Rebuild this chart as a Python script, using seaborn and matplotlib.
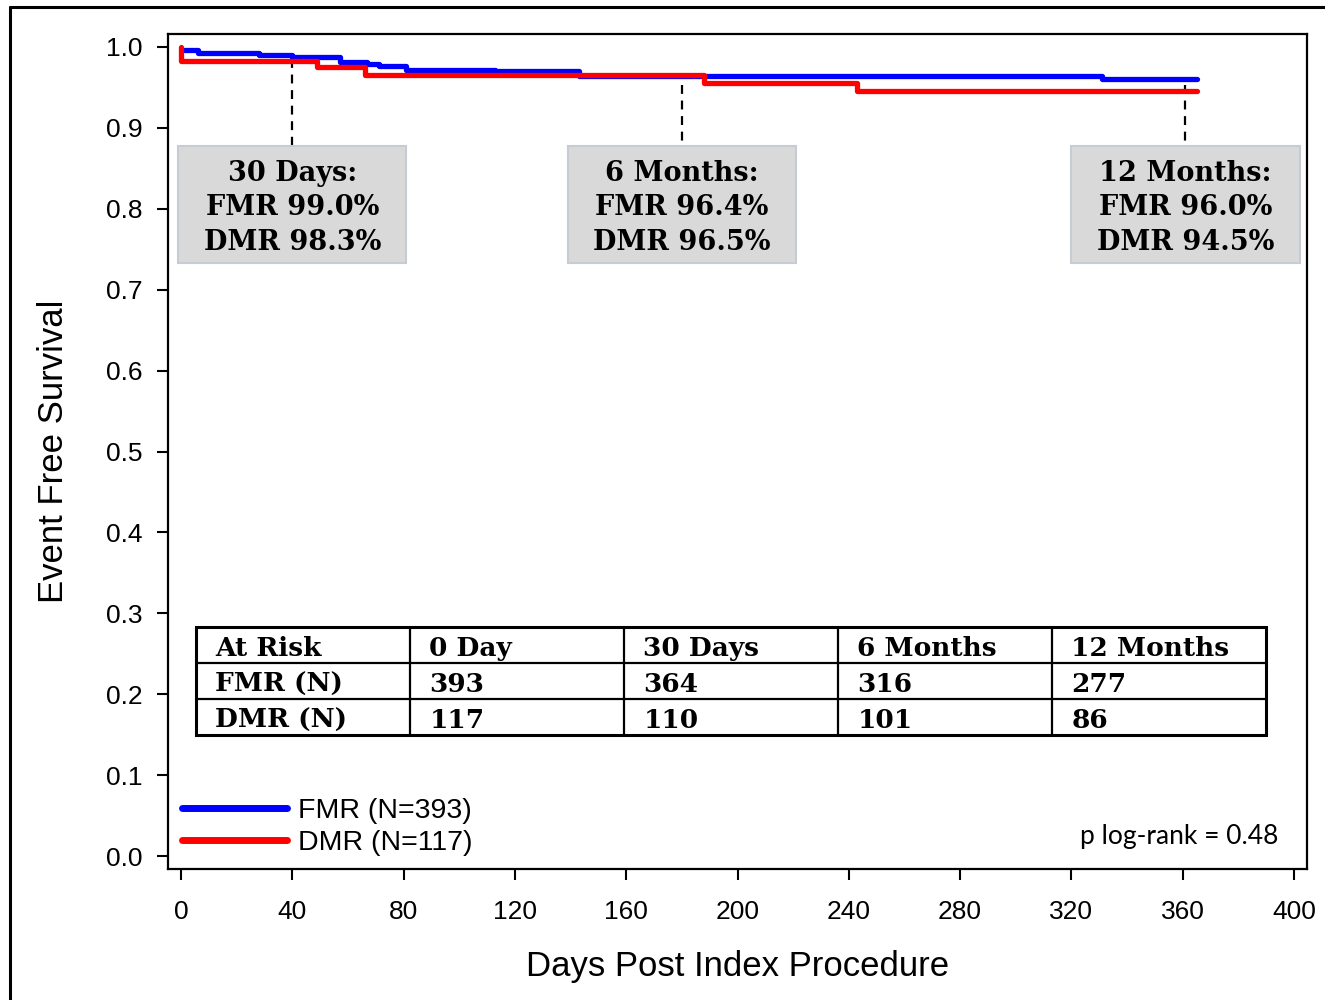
import matplotlib
matplotlib.use("Agg")
import matplotlib.pyplot as plt
from matplotlib.patches import Rectangle
from matplotlib.lines import Line2D
import seaborn as sns
import pandas as pd

# ---------------- data ----------------
fmr_days = [0, 6, 28, 40, 57, 67, 71, 81, 113, 143, 331, 365]
fmr_surv = [0.996, 0.993, 0.990, 0.988, 0.982, 0.979, 0.976, 0.972, 0.970, 0.964, 0.960, 0.960]
dmr_days = [0, 0, 49, 66, 188, 243, 365]
dmr_surv = [1.000, 0.983, 0.975, 0.965, 0.955, 0.945, 0.945]
group_labels = ["FMR (N=393)", "DMR (N=117)"]

mark_days = [40, 180, 361]
mark_titles = ["30 Days:", "6 Months:", "12 Months:"]
mark_fmr = ["FMR 99.0%", "FMR 96.4%", "FMR 96.0%"]
mark_dmr = ["DMR 98.3%", "DMR 96.5%", "DMR 94.5%"]

risk_header = ["At Risk", "0 Day", "30 Days", "6 Months", "12 Months"]
risk_fmr = ["FMR (N)", "393", "364", "316", "277"]
risk_dmr = ["DMR (N)", "117", "110", "101", "86"]

p_text = "p log-rank = 0.48"

# ---------------- style ----------------
sns.set_theme(style="ticks")
plt.rcParams["font.family"] = ["Liberation Sans", "DejaVu Sans"]
plt.rcParams["text.color"] = "black"
plt.rcParams["axes.labelcolor"] = "black"

fig = plt.figure(figsize=(13.25, 10), dpi=100)
ax = fig.add_axes([168 / 1325, 1 - 869 / 1000, (1307 - 168) / 1325, (869 - 34) / 1000])

df = pd.concat([
    pd.DataFrame({"day": fmr_days, "surv": fmr_surv, "group": group_labels[0]}),
    pd.DataFrame({"day": dmr_days, "surv": dmr_surv, "group": group_labels[1]}),
], ignore_index=True)

palette = {group_labels[0]: "#0000ff", group_labels[1]: "#ff0000"}
sns.lineplot(data=df, x="day", y="surv", hue="group", palette=palette,
             drawstyle="steps-post", estimator=None, sort=False,
             linewidth=3.8, ax=ax, zorder=3)

ax.set_xlim(-4.67, 404.67)
ax.set_ylim(-0.016, 1.016)
ax.set_xticks(range(0, 401, 40))
ax.set_yticks([i / 10 for i in range(11)])
ax.set_yticklabels([f"{i / 10:.1f}" for i in range(11)])
ax.tick_params(axis="both", direction="out", length=8, width=1.5,
               labelsize=19, color="black", labelcolor="black")
ax.tick_params(axis="x", pad=14)
ax.tick_params(axis="y", pad=10)
for s in ax.spines.values():
    s.set_visible(True)
    s.set_linewidth(1.6)
    s.set_color("black")
ax.set_xlabel("Days Post Index Procedure", fontsize=25, labelpad=19, color="black")
ax.set_ylabel("Event Free Survival", fontsize=25, labelpad=26, color="black")

# ---------------- annotation boxes ----------------
serif = ["DejaVu Serif"]
box_w = 82
box_top = 0.8776
box_bot = 0.733
dash_tops = [0.985, 0.953, 0.953]
for d, t1, t2, t3, dt in zip(mark_days, mark_titles, mark_fmr, mark_dmr, dash_tops):
    ax.plot([d, d], [dt, box_top], color="black", lw=1.6, ls=(0, (4, 3)), zorder=2)
    ax.add_patch(Rectangle((d - box_w / 2, box_bot), box_w, box_top - box_bot,
                           facecolor="#d9d9d9", edgecolor="#c5ccd3", lw=1.5, zorder=2))
    for txt, yy in zip([t1, t2, t3], [0.844, 0.801, 0.758]):
        ax.text(d, yy, txt, ha="center", va="center", fontsize=19.5, color="black",
                fontweight="bold", family=serif, zorder=4)

# ---------------- at-risk table ----------------
col_x = [5.4, 82.3, 159.2, 236.1, 313.0, 389.9]
row_y = [0.283, 0.2386, 0.194, 0.1496]
ax.add_patch(Rectangle((col_x[0], row_y[-1]), col_x[-1] - col_x[0], row_y[0] - row_y[-1],
                       facecolor="white", edgecolor="black", lw=2.2, zorder=4))
for x in col_x[1:-1]:
    ax.plot([x, x], [row_y[-1], row_y[0]], color="black", lw=1.6, zorder=5)
for y in row_y[1:-1]:
    ax.plot([col_x[0], col_x[-1]], [y, y], color="black", lw=1.6, zorder=5)
for r, row in enumerate([risk_header, risk_fmr, risk_dmr]):
    yc = (row_y[r] + row_y[r + 1]) / 2 - 0.004
    for c, txt in enumerate(row):
        ax.text(col_x[c] + 7, yc, txt, ha="left", va="center", fontsize=19, color="black",
                fontweight="bold", family=serif, zorder=6)

# ---------------- legend & p value ----------------
sns.move_legend(ax, loc="lower left", bbox_to_anchor=(0.012, 0.016), frameon=False,
                title=None, fontsize=20.5, handlelength=3.7, handletextpad=0.4,
                labelspacing=0.2, borderpad=0, borderaxespad=0)
leg = ax.get_legend()
for h in leg.get_lines():
    h.set_linewidth(5)
for t in leg.get_texts():
    t.set_color("black")

ax.text(0.9745, 0.0395, p_text, transform=ax.transAxes, ha="right", va="center",
        fontsize=19, color="black", family=["Lato", "DejaVu Sans"])

# ---------------- outer frame ----------------
fig.add_artist(Line2D([10 / 1325, 1.0], [1 - 7 / 1000, 1 - 7 / 1000],
                      transform=fig.transFigure, color="black", lw=2.2))
fig.add_artist(Line2D([10 / 1325, 10 / 1325], [0.0, 1 - 7 / 1000],
                      transform=fig.transFigure, color="black", lw=2.2))

fig.savefig("out.png", dpi=100)
